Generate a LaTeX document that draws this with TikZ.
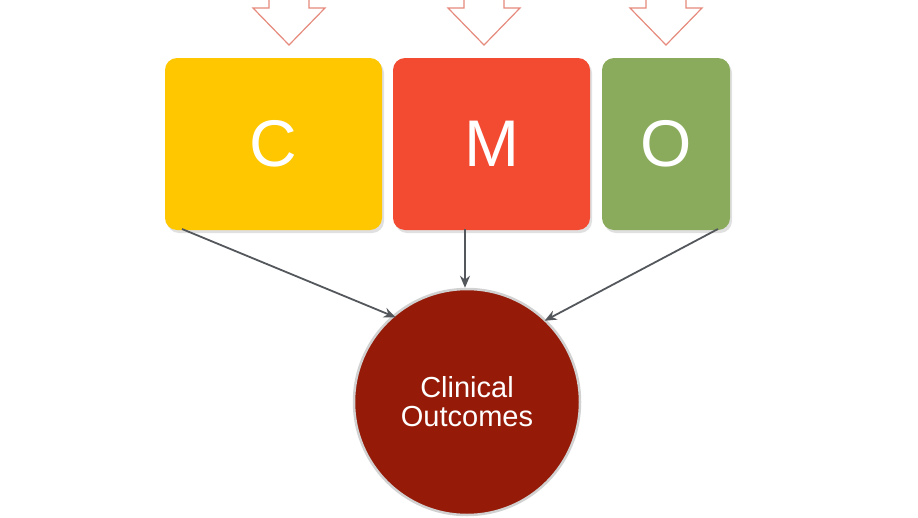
\documentclass[tikz,border=0pt]{standalone}
\usepackage{fontspec}
\setmainfont{Liberation Sans}
\usetikzlibrary{arrows.meta}
\definecolor{cyel}{HTML}{FEC700}
\definecolor{cred}{HTML}{F34A32}
\definecolor{cgrn}{HTML}{8AAB5B}
\definecolor{cdark}{HTML}{951B08}
\definecolor{hollow}{HTML}{E58A7C}
\definecolor{conn}{HTML}{54585C}
\tikzset{
  box/.style={rounded corners=12pt, inner sep=0pt, text=white,
    font=\fontsize{66}{66}\selectfont},
  conn/.style={draw=conn, line width=1.8pt, -{Stealth[length=12pt,width=10pt]}},
  hollowarrow/.style={draw=hollow, line width=1.2pt, fill=white, line join=miter},
}
\begin{document}
\begin{tikzpicture}[x=1pt,y=-1pt]
\useasboundingbox (0,0) rectangle (918,517);
\fill[white] (0,0) rectangle (918,517);
% hollow arrows at top
\foreach \cx in {289,484,666}{
  \draw[hollowarrow] (\cx-20,-5) -- (\cx-20,8) -- (\cx-36,8) -- (\cx,45) -- (\cx+36,8) -- (\cx+20,8) -- (\cx+20,-5);
}
% box shadows
\fill[black!12, rounded corners=12pt] (167,61) rectangle (384,233);
\fill[black!12, rounded corners=12pt] (395,61) rectangle (592,233);
\fill[black!12, rounded corners=12pt] (604,61) rectangle (732,233);
% boxes
\node[box, fill=cyel, minimum width=217pt, minimum height=172pt] (c) at (273.5,144) {C};
\node[box, fill=cred, minimum width=197pt, minimum height=172pt] (m) at (491.5,144) {M};
\node[box, fill=cgrn, minimum width=128pt, minimum height=172pt] (o) at (666,144) {O};
% circle
\node[circle, fill=cdark, draw=black!18, line width=2.5pt, minimum size=226pt, inner sep=0pt,
  text=white, align=center, font=\fontsize{29}{31}\selectfont] (co) at (467,402) {\raisebox{-2pt}{Clinical}\\Outcomes};
% connectors
\coordinate (cs) at (182,229);
\coordinate (ms) at (465,229);
\coordinate (os) at (718,229);
\draw[conn, shorten >=-4pt] (cs) -- (co.131);
\draw[conn] (ms) -- (co.north -| ms);
\draw[conn, shorten >=-2pt] (os) -- (co.46);
\end{tikzpicture}
\end{document}
